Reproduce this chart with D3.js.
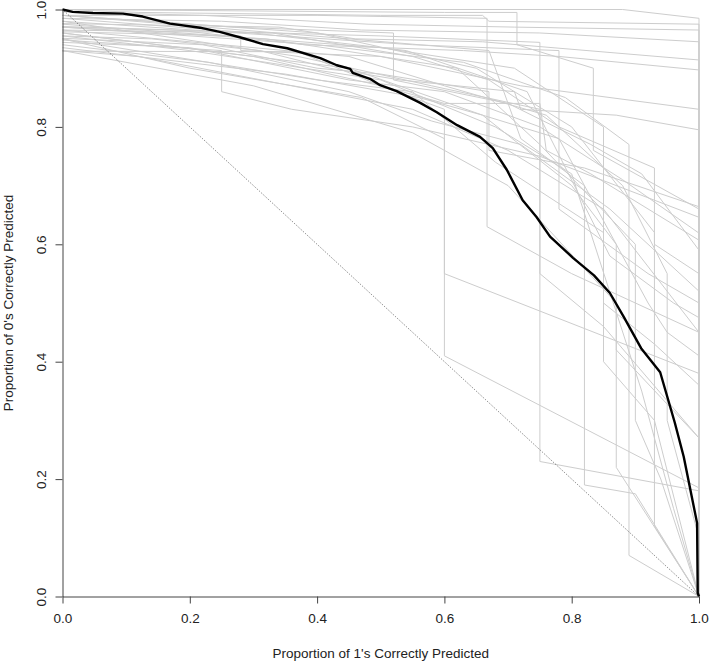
<!DOCTYPE html>
<html>
<head>
<meta charset="utf-8">
<script src="https://cdn.jsdelivr.net/npm/d3@7"></script>
<style>
  body { margin: 0; background: #fff; }
  svg { display: block; font-family: "Liberation Sans", Arial, sans-serif; }
</style>
</head>
<body>
<div id="chart"></div>
<script>
let width = 709;
let height = 663;

// tick values for both axes
const xTicks = [0, 0.2, 0.4, 0.6, 0.8, 1.0];
const yTicks = [0, 0.2, 0.4, 0.6, 0.8, 1.0];

// mean curve: [proportion of 1's, proportion of 0's]
const meanCurve = [
  [0, 1], [0.016, 0.996], [0.048, 0.994], [0.095, 0.993], [0.126, 0.988],
  [0.169, 0.976], [0.216, 0.969], [0.247, 0.962], [0.284, 0.951], [0.315, 0.941],
  [0.353, 0.934], [0.405, 0.917], [0.431, 0.905], [0.452, 0.899], [0.456, 0.892],
  [0.483, 0.882], [0.499, 0.871], [0.525, 0.861], [0.562, 0.841], [0.588, 0.825],
  [0.62, 0.803], [0.656, 0.783], [0.676, 0.764], [0.698, 0.727], [0.723, 0.675],
  [0.745, 0.646], [0.766, 0.613], [0.802, 0.577], [0.835, 0.547], [0.86, 0.517],
  [0.882, 0.476], [0.909, 0.423], [0.939, 0.382], [0.962, 0.296], [0.976, 0.238],
  [0.997, 0.125], [0.998, 0.006], [1, 0]
];

// individual simulated curves (grey)
const simCurves = [
  [[0,1],[0.88,1],[1,0.985],[1,0]],
  [[0,1],[0.12,0.995],[0.5,0.99],[0.66,0.99],[0.67,0.98],[1,0.975],[1,0]],
  [[0,0.996],[0.22,0.99],[0.48,0.975],[0.71,0.97],[1,0.965],[1,0]],
  [[0,0.985],[0.25,0.98],[0.47,0.965],[0.75,0.96],[1,0.945],[1,0]],
  [[0,0.976],[0.34,0.97],[0.46,0.95],[0.66,0.945],[1,0.914],[1,0]],
  [[0,0.971],[0.18,0.965],[0.38,0.94],[0.63,0.93],[0.78,0.92],[1,0.897],[1,0]],
  [[0,0.962],[0.28,0.955],[0.28,0.93],[0.5,0.92],[0.72,0.87],[1,0.83],[1,0]],
  [[0,0.955],[0.14,0.95],[0.31,0.93],[0.42,0.9],[0.53,0.88],[0.71,0.86],[0.72,0.83],[0.87,0.82],[1,0.795],[1,0]],
  [[0,0.951],[0.22,0.94],[0.4,0.9],[0.5,0.89],[0.67,0.86],[0.67,0.76],[0.82,0.73],[1,0.664],[1,0]],
  [[0,0.948],[0.25,0.93],[0.25,0.86],[0.36,0.83],[0.55,0.8],[0.75,0.75],[1,0.646],[1,0]],
  [[0,0.944],[0.2,0.935],[0.45,0.88],[0.6,0.86],[0.75,0.8],[0.88,0.71],[1,0.619],[1,0]],
  [[0,0.929],[0.37,0.928],[0.5,0.87],[0.6,0.84],[0.75,0.84],[0.76,0.76],[0.83,0.72],[1,0.607],[1,0]],
  [[0,0.99],[0.27,0.97],[0.52,0.96],[0.52,0.88],[0.7,0.84],[0.83,0.77],[0.91,0.72],[1,0.59],[1,0]],
  [[0,0.965],[0.33,0.96],[0.55,0.92],[0.67,0.88],[0.78,0.8],[0.93,0.73],[0.93,0.6],[1,0.55],[1,0]],
  [[0,0.94],[0.23,0.91],[0.45,0.86],[0.58,0.81],[0.72,0.77],[0.86,0.66],[1,0.52],[1,0]],
  [[0,0.96],[0.3,0.92],[0.5,0.87],[0.6,0.83],[0.6,0.55],[1,0.38],[1,0]],
  [[0,0.95],[0.2,0.9],[0.47,0.85],[0.6,0.78],[0.6,0.41],[1,0.185],[1,0]],
  [[0,0.98],[0.37,0.92],[0.58,0.87],[0.75,0.83],[0.75,0.23],[1,0.18],[1,0]],
  [[0,0.99],[0.45,0.95],[0.67,0.93],[0.72,0.78],[0.82,0.7],[0.82,0.19],[0.9,0.175],[1,0]],
  [[0,0.97],[0.4,0.94],[0.63,0.91],[0.79,0.85],[0.89,0.77],[0.89,0.07],[1,0]],
  [[0,0.975],[0.5,0.935],[0.71,0.9],[0.85,0.8],[0.85,0.4],[0.93,0.3],[1,0]],
  [[0,0.96],[0.45,0.9],[0.66,0.82],[0.8,0.7],[0.87,0.6],[0.87,0.42],[1,0.27],[1,0]],
  [[0,0.935],[0.35,0.89],[0.56,0.85],[0.66,0.82],[0.78,0.78],[0.92,0.5],[0.95,0.45],[1,0.41],[1,0]],
  [[0,0.985],[0.3,0.96],[0.54,0.93],[0.73,0.86],[0.86,0.58],[0.96,0.5],[1,0.475],[1,0]],
  [[0,0.95],[0.4,0.88],[0.55,0.86],[0.68,0.74],[0.85,0.62],[0.85,0.5],[0.93,0.43],[1,0.36],[1,0]],
  [[0,0.97],[0.32,0.95],[0.62,0.9],[0.75,0.77],[0.9,0.6],[0.9,0.3],[0.94,0.2],[1,0]],
  [[0,0.93],[0.3,0.87],[0.55,0.79],[0.7,0.7],[0.87,0.5],[0.87,0.22],[1,0]],
  [[0,0.99],[0.4,0.96],[0.65,0.9],[0.8,0.8],[0.93,0.62],[0.93,0.12],[1,0]],
  [[0,0.955],[0.2,0.93],[0.5,0.88],[0.68,0.8],[0.8,0.72],[0.91,0.35],[0.96,0.15],[1,0]],
  [[0,0.965],[0.45,0.92],[0.6,0.87],[0.76,0.82],[0.88,0.7],[0.95,0.55],[0.95,0.3],[1,0.1],[1,0]],
  [[0,0.99],[0.4,0.99],[0.667,0.985],[0.667,0.63],[0.8,0.55],[1,0.45],[1,0]],
  [[0,1],[0.6,0.995],[0.714,0.995],[0.714,0.94],[0.834,0.9],[0.834,0.76],[1,0.66],[1,0]],
  [[0,0.97],[0.5,0.955],[0.75,0.944],[0.75,0.55],[0.85,0.46],[1,0.27],[1,0]],
  [[0,0.98],[0.55,0.94],[0.78,0.93],[0.78,0.66],[0.92,0.55],[1,0.5],[1,0]],
  [[0,0.93],[0.12,0.92],[0.36,0.87],[0.55,0.83],[0.7,0.76],[0.85,0.66],[1,0.45],[1,0]]
];

const xTitle = "Proportion of 1's Correctly Predicted";
const yTitle = "Proportion of 0's Correctly Predicted";

let margin = {left: 62.5, right: 10, top: 9.5, bottom: 66.5};

let svg = d3.select("#chart")
  .append("svg")
  .attr("width", width)
  .attr("height", height);

svg.append("rect")
  .attr("width", width)
  .attr("height", height)
  .attr("fill", "#fff");

let x = d3.scaleLinear().domain([0, 1]).range([margin.left, width - margin.right]);
let y = d3.scaleLinear().domain([0, 1]).range([height - margin.bottom, margin.top]);

let line = d3.line()
  .x(function(d) { return x(d[0]); })
  .y(function(d) { return y(d[1]); });

// grey curves
svg.append("g")
  .selectAll("path")
  .data(simCurves)
  .enter().append("path")
    .attr("d", line)
    .attr("fill", "none")
    .attr("stroke", "#cdcdcd")
    .attr("stroke-width", 1);

// chance diagonal
svg.append("path")
  .attr("d", line([[0, 1], [1, 0]]))
  .attr("fill", "none")
  .attr("stroke", "#333")
  .attr("stroke-width", 0.7)
  .attr("stroke-dasharray", "1,1.5");

// mean curve
svg.append("path")
  .attr("d", line(meanCurve))
  .attr("fill", "none")
  .attr("stroke", "#000")
  .attr("stroke-width", 2.4)
  .attr("stroke-linejoin", "round");

// axes
let xAxis = svg.append("g")
  .attr("transform", "translate(0," + y(0) + ")")
  .call(d3.axisBottom(x).tickValues(xTicks).tickFormat(d3.format(".1f")).tickSize(7).tickSizeOuter(0).tickPadding(10));

let yAxis = svg.append("g")
  .attr("transform", "translate(" + x(0) + ",0)")
  .call(d3.axisLeft(y).tickValues(yTicks).tickFormat(d3.format(".1f")).tickSize(7).tickSizeOuter(0));

yAxis.selectAll(".tick text")
  .attr("x", null)
  .attr("dy", null)
  .attr("text-anchor", "middle")
  .attr("transform", "translate(-17,0) rotate(-90)");

svg.selectAll(".domain, .tick line").attr("stroke", "#444");
svg.selectAll(".tick text")
  .attr("font-size", 13.5)
  .attr("font-family", "Liberation Sans, Arial, sans-serif")
  .attr("fill", "#222");

svg.append("text")
  .attr("x", (x(0) + x(1)) / 2)
  .attr("y", 658)
  .attr("text-anchor", "middle")
  .attr("font-size", 13.5)
  .attr("fill", "#222")
  .text(xTitle);

svg.append("text")
  .attr("transform", "translate(13," + ((y(0) + y(1)) / 2) + ") rotate(-90)")
  .attr("text-anchor", "middle")
  .attr("font-size", 13.5)
  .attr("fill", "#222")
  .text(yTitle);
</script>
</body>
</html>
